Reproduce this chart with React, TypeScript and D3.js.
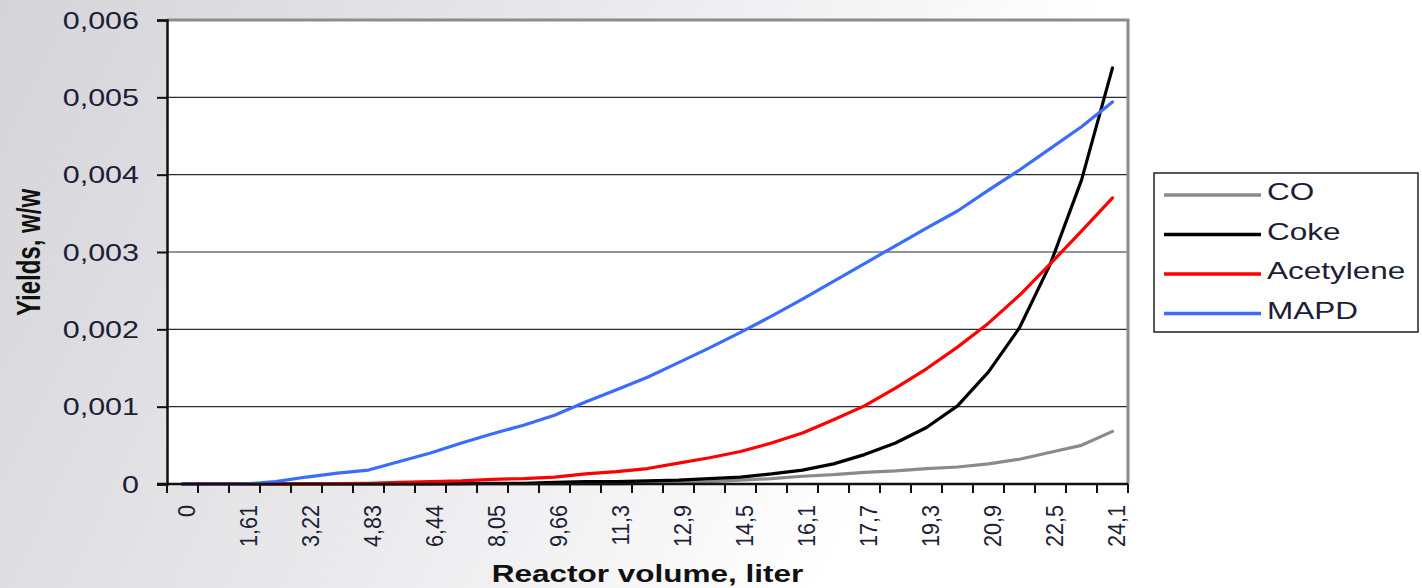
import React, { useEffect, useRef } from "react";
import * as d3 from "d3";

// reactor volume categories (liter), one every 0.805
const volumes = [
  "0", "0,805", "1,61", "2,42", "3,22", "4,03", "4,83", "5,64", "6,44", "7,25",
  "8,05", "8,86", "9,66", "10,5", "11,3", "12,1", "12,9", "13,7", "14,5", "15,3",
  "16,1", "16,9", "17,7", "18,5", "19,3", "20,1", "20,9", "21,7", "22,5", "23,3",
  "24,1",
];

const coValues = [
  0, 0, 0, 0, 0, 0, 0, 0, 0, 0, 0, 0, 0, 0, 0, 0.00001, 0.00002, 0.00003,
  0.00005, 0.00007, 0.0001, 0.00012, 0.00015, 0.00017, 0.0002, 0.00022,
  0.00026, 0.00032, 0.00041, 0.0005, 0.00068,
];

const cokeValues = [
  0, 0, 0, 0, 0, 0, 0, 0, 0, 0.000005, 0.00001, 0.00001, 0.00002, 0.00003,
  0.00003, 0.00004, 0.00005, 0.00007, 0.00009, 0.00013, 0.00018, 0.00026,
  0.00038, 0.00053, 0.00073, 0.00101, 0.00145, 0.00202, 0.00285, 0.00393,
  0.00538,
];

const acetyleneValues = [
  0, 0, 0, 0, 0, 0.000005, 0.00001, 0.00002, 0.00003, 0.00004, 0.00006,
  0.00007, 0.00009, 0.00013, 0.00016, 0.0002, 0.00027, 0.00034, 0.00042,
  0.00053, 0.00066, 0.00083, 0.00101, 0.00124, 0.00149, 0.00177, 0.00208,
  0.00244, 0.00285, 0.00327, 0.0037,
];

const mapdValues = [
  0, 0, 0, 0.00003, 0.00009, 0.00014, 0.00018, 0.00029, 0.0004, 0.00053,
  0.00065, 0.00076, 0.00089, 0.00106, 0.00122, 0.00138, 0.00157, 0.00176,
  0.00196, 0.00217, 0.00239, 0.00262, 0.00285, 0.00308, 0.00331, 0.00353,
  0.0038, 0.00406, 0.00434, 0.00462, 0.00494,
];

const yTicks = [0, 0.001, 0.002, 0.003, 0.004, 0.005, 0.006];

const seriesNames = ["CO", "Coke", "Acetylene", "MAPD"];

const App = () => {
  const ref = useRef<SVGSVGElement | null>(null);

  useEffect(() => {
    const svg = d3.select(ref.current);
    svg.selectAll("*").remove();

    const W = 1422;
    const H = 588;
    const margin = { top: 20, left: 167, right: 294, bottom: 104 };
    const width = W - margin.left - margin.right;
    const height = H - margin.top - margin.bottom;
    const font = "'Liberation Sans', Arial, sans-serif";
    const textColor = "#1c2035";

    const series = [
      { name: seriesNames[0], values: coValues, color: "#8a8a8a" },
      { name: seriesNames[1], values: cokeValues, color: "#000000" },
      { name: seriesNames[2], values: acetyleneValues, color: "#ff0000" },
      { name: seriesNames[3], values: mapdValues, color: "#3c6cff" },
    ];

    // background gradient
    const defs = svg.append("defs");
    const grad = defs
      .append("linearGradient")
      .attr("id", "bg")
      .attr("x1", "0%")
      .attr("y1", "0%")
      .attr("x2", "100%")
      .attr("y2", "20%");
    grad.append("stop").attr("offset", "0%").attr("stop-color", "#d4d4d9");
    grad.append("stop").attr("offset", "45%").attr("stop-color", "#ececee");
    grad.append("stop").attr("offset", "75%").attr("stop-color", "#ffffff");
    grad.append("stop").attr("offset", "100%").attr("stop-color", "#ffffff");
    svg.append("rect").attr("width", W).attr("height", H).attr("fill", "url(#bg)");

    const x = d3.scaleBand().domain(volumes).range([0, width]).padding(0);
    const y = d3.scaleLinear().domain([0, 0.006]).range([height, 0]);
    const cx = (d: string) => (x(d) as number) + x.bandwidth() / 2;

    const g = svg
      .append("g")
      .attr("transform", `translate(${margin.left},${margin.top})`);

    g.append("rect")
      .attr("width", width)
      .attr("height", height)
      .attr("fill", "#ffffff");

    // gridlines
    g.append("g")
      .selectAll("line")
      .data(yTicks.slice(1, -1))
      .join("line")
      .attr("x1", 0)
      .attr("x2", width)
      .attr("y1", (d) => y(d))
      .attr("y2", (d) => y(d))
      .attr("stroke", "#2b2b2b")
      .attr("stroke-width", 1.2);

    // gray frame top and right
    g.append("path")
      .attr("d", `M0,0H${width}V${height}`)
      .attr("fill", "none")
      .attr("stroke", "#8c8c8c")
      .attr("stroke-width", 3);

    const line = d3
      .line<number>()
      .x((d, i) => cx(volumes[i]))
      .y((d) => y(d));

    series.forEach((s) => {
      g.append("path")
        .datum(s.values)
        .attr("fill", "none")
        .attr("stroke", s.color)
        .attr("stroke-width", 3.2)
        .attr("stroke-linejoin", "round")
        .attr("stroke-linecap", "round")
        .attr("d", line);
    });

    // y axis
    const yAxis = g
      .append("g")
      .call(d3.axisLeft(y).tickValues(yTicks).tickSize(10).tickFormat(() => ""));
    yAxis.select(".domain").attr("stroke", "#111").attr("stroke-width", 2.5);
    yAxis.selectAll(".tick line").attr("stroke", "#111").attr("stroke-width", 2);

    g.append("g")
      .selectAll("text")
      .data(yTicks)
      .join("text")
      .attr("transform", (d) => `translate(-28,${y(d)}) scale(1.27,1)`)
      .attr("text-anchor", "end")
      .attr("dy", "0.36em")
      .attr("font-family", font)
      .attr("font-size", 24)
      .attr("fill", textColor)
      .text((d) => (d === 0 ? "0" : d3.format(".3f")(d).replace(".", ",")));

    // x axis with ticks between categories
    const xAxis = g.append("g").attr("transform", `translate(0,${height})`);
    xAxis
      .append("line")
      .attr("x1", -10)
      .attr("x2", width)
      .attr("stroke", "#111")
      .attr("stroke-width", 2.5);
    xAxis
      .selectAll("line.tk")
      .data(volumes.concat(["end"]))
      .join("line")
      .attr("class", "tk")
      .attr("x1", (d, i) => (i < volumes.length ? (x(d) as number) : width))
      .attr("x2", (d, i) => (i < volumes.length ? (x(d) as number) : width))
      .attr("y1", 0)
      .attr("y2", 9)
      .attr("stroke", "#111")
      .attr("stroke-width", 2);
    xAxis
      .selectAll("text")
      .data(volumes.filter((d, i) => i % 2 === 0))
      .join("text")
      .attr("transform", (d) => `translate(${cx(d) + 12.5},21) rotate(-90) scale(1,1.1)`)
      .attr("text-anchor", "end")
      .attr("font-family", font)
      .attr("font-size", 21.6)
      .attr("fill", textColor)
      .text((d) => d);

    // axis titles
    svg
      .append("text")
      .attr("transform", "translate(647.5,582) scale(1.37,1)")
      .attr("text-anchor", "middle")
      .attr("font-family", font)
      .attr("font-weight", "bold")
      .attr("font-size", 23)
      .attr("fill", "#111")
      .text("Reactor volume, liter");

    svg
      .append("text")
      .attr("transform", "translate(40,252.5) rotate(-90) scale(1,1.4)")
      .attr("text-anchor", "middle")
      .attr("font-family", font)
      .attr("font-weight", "bold")
      .attr("font-size", 24)
      .attr("fill", "#111")
      .text("Yields, w/w");

    // legend
    const legend = svg.append("g").attr("transform", "translate(1154,173)");
    legend
      .append("rect")
      .attr("width", 264)
      .attr("height", 159)
      .attr("fill", "#ffffff")
      .attr("stroke", "#222")
      .attr("stroke-width", 1.5);
    series.forEach((s, i) => {
      const row = legend.append("g").attr("transform", `translate(0,${22 + i * 39.5})`);
      row
        .append("line")
        .attr("x1", 10)
        .attr("x2", 107)
        .attr("stroke", s.color)
        .attr("stroke-width", 3.6);
      row
        .append("text")
        .attr("transform", "translate(113,5) scale(1.34,1)")
        .attr("font-family", font)
        .attr("font-size", 23.5)
        .attr("fill", textColor)
        .text(s.name);
    });
  }, []);

  return (
    <div style={{ position: "fixed", left: 0, top: 0 }}>
      <svg ref={ref} width={1422} height={588} style={{ display: "block" }} />
    </div>
  );
};

export default App;
